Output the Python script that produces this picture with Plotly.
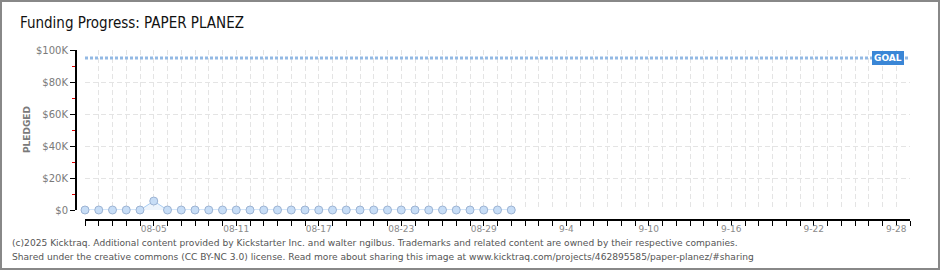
import plotly.graph_objects as go
import pandas as pd

# ---- data ----
dates = pd.date_range("2025-07-31", "2025-08-31", freq="D").strftime("%Y-%m-%d").tolist()
pledged = [0, 0, 0, 0, 0, 5600, 0, 0, 0, 0, 0, 0, 0, 0, 0, 0,
           0, 0, 0, 0, 0, 0, 0, 0, 0, 0, 0, 0, 0, 0, 0, 0]
goal = 95000
axis_start = "2025-07-31"
axis_end = "2025-09-29"
tick_dates = ["2025-08-05", "2025-08-11", "2025-08-17", "2025-08-23", "2025-08-29",
              "2025-09-04", "2025-09-10", "2025-09-16", "2025-09-22", "2025-09-28"]
tick_labels = ["08-05", "08-11", "08-17", "08-23", "08-29", "9-4", "9-10", "9-16", "9-22", "9-28"]
y_tickvals = [0, 20000, 40000, 60000, 80000, 100000]
y_ticktext = ["$0", "$20K", "$40K", "$60K", "$80K", "$100K"]

title_text = "Funding Progress: PAPER PLANEZ"
footer1 = ("(c)2025 Kicktraq. Additional content provided by Kickstarter Inc. and walter ngilbus. "
           "Trademarks and related content are owned by their respective companies.")
footer2 = ("Shared under the creative commons (CC BY-NC 3.0) license. Read more about sharing this image "
           "at www.kicktraq.com/projects/462895585/paper-planez/#sharing")

# ---- layout geometry (pixels) ----
W, H = 940, 270
ML, MR, MT, MB = 76, 30, 50, 50
PW, PH = W - ML - MR, H - MT - MB

def px_x(px):
    return (px - ML) / PW

def px_y(py):
    return (H - MB - py) / PH

all_days = pd.date_range(axis_start, axis_end, freq="D").strftime("%Y-%m-%d").tolist()
label_map = dict(zip(tick_dates, tick_labels))
all_text = [label_map.get(d, "") for d in all_days]

fig = go.Figure()

# goal line
fig.add_trace(go.Scatter(
    x=[axis_start, axis_end], y=[goal, goal], mode="lines",
    line=dict(color="#93b9e4", width=3, dash="3px,2px"),
    hoverinfo="skip", showlegend=False, cliponaxis=False,
))

# pledged
fig.add_trace(go.Scatter(
    x=dates, y=pledged, mode="lines+markers",
    line=dict(color="#a9cdf2", width=1),
    fill="tozeroy", fillcolor="rgba(215,230,248,0.45)",
    marker=dict(size=8, color="#c7ddf6", line=dict(color="#9cb3d3", width=1)),
    showlegend=False, cliponaxis=False,
))

grid_col = "#e4e4e4"
fig.update_layout(
    width=W, height=H,
    margin=dict(l=ML, r=MR, t=MT, b=MB),
    paper_bgcolor="white", plot_bgcolor="white",
    showlegend=False,
    title=dict(text=title_text, xref="container", x=20 / W, xanchor="left",
               yref="container", y=1 - 23 / H, yanchor="middle",
               font=dict(family="Liberation Sans Narrow, DejaVu Sans Condensed, Liberation Sans",
                         size=15, color="#111111")),
    xaxis=dict(
        domain=[px_x(85), 1], range=[axis_start, axis_end], type="date",
        anchor="free", position=0,
        showline=True, linecolor="black", linewidth=2,
        ticks="outside", ticklen=5, tickcolor="black", tickwidth=1,
        tickmode="array", tickvals=all_days, ticktext=all_text,
        tickfont=dict(family="DejaVu Sans", size=9, color="#8a8a8a"),
        ticklabelstandoff=-5,
        showgrid=True, gridcolor=grid_col, griddash="5px,3px", gridwidth=1,
        zeroline=False,
    ),
    yaxis=dict(
        domain=[px_y(210), 1], range=[0, 100000],
        anchor="free", position=0,
        showline=True, linecolor="black", linewidth=2,
        ticks="outside", ticklen=5, tickcolor="black", tickwidth=1,
        tickmode="array", tickvals=y_tickvals, ticktext=y_ticktext,
        tickfont=dict(family="DejaVu Sans", size=10, color="#7a7a7a"),
        minor=dict(dtick=10000, tick0=0, ticks="outside", ticklen=3, tickcolor="#e00000",
                   tickwidth=1, showgrid=False),
        showgrid=True, gridcolor=grid_col, griddash="5px,3px", gridwidth=1,
        zeroline=False,
    ),
    annotations=[
        dict(text="<b>PLEDGED</b>", xref="paper", yref="paper", x=px_x(27), y=px_y(130),
             textangle=-90, showarrow=False, xanchor="center", yanchor="middle",
             font=dict(family="DejaVu Sans", size=9, color="#7a7a7a")),
        dict(text="<b>GOAL</b>", xref="paper", yref="y", x=px_x(888), y=goal,
             showarrow=False, xanchor="center", yanchor="middle",
             bgcolor="#3a86d6", bordercolor="#3a86d6", borderpad=1,
             font=dict(family="DejaVu Sans", size=9, color="white")),
        dict(text=footer1, xref="paper", yref="paper", x=px_x(10), y=px_y(243),
             showarrow=False, xanchor="left", yanchor="middle",
             font=dict(family="DejaVu Sans", size=9.1, color="#555555")),
        dict(text=footer2, xref="paper", yref="paper", x=px_x(10), y=px_y(257),
             showarrow=False, xanchor="left", yanchor="middle",
             font=dict(family="DejaVu Sans", size=9.1, color="#555555")),
    ],
    shapes=[
        dict(type="rect", xref="paper", yref="paper",
             x0=px_x(1), x1=px_x(W - 1), y0=px_y(1), y1=px_y(H - 1),
             line=dict(color="#888888", width=2), layer="above"),
    ],
)

fig.write_html("out.html")
